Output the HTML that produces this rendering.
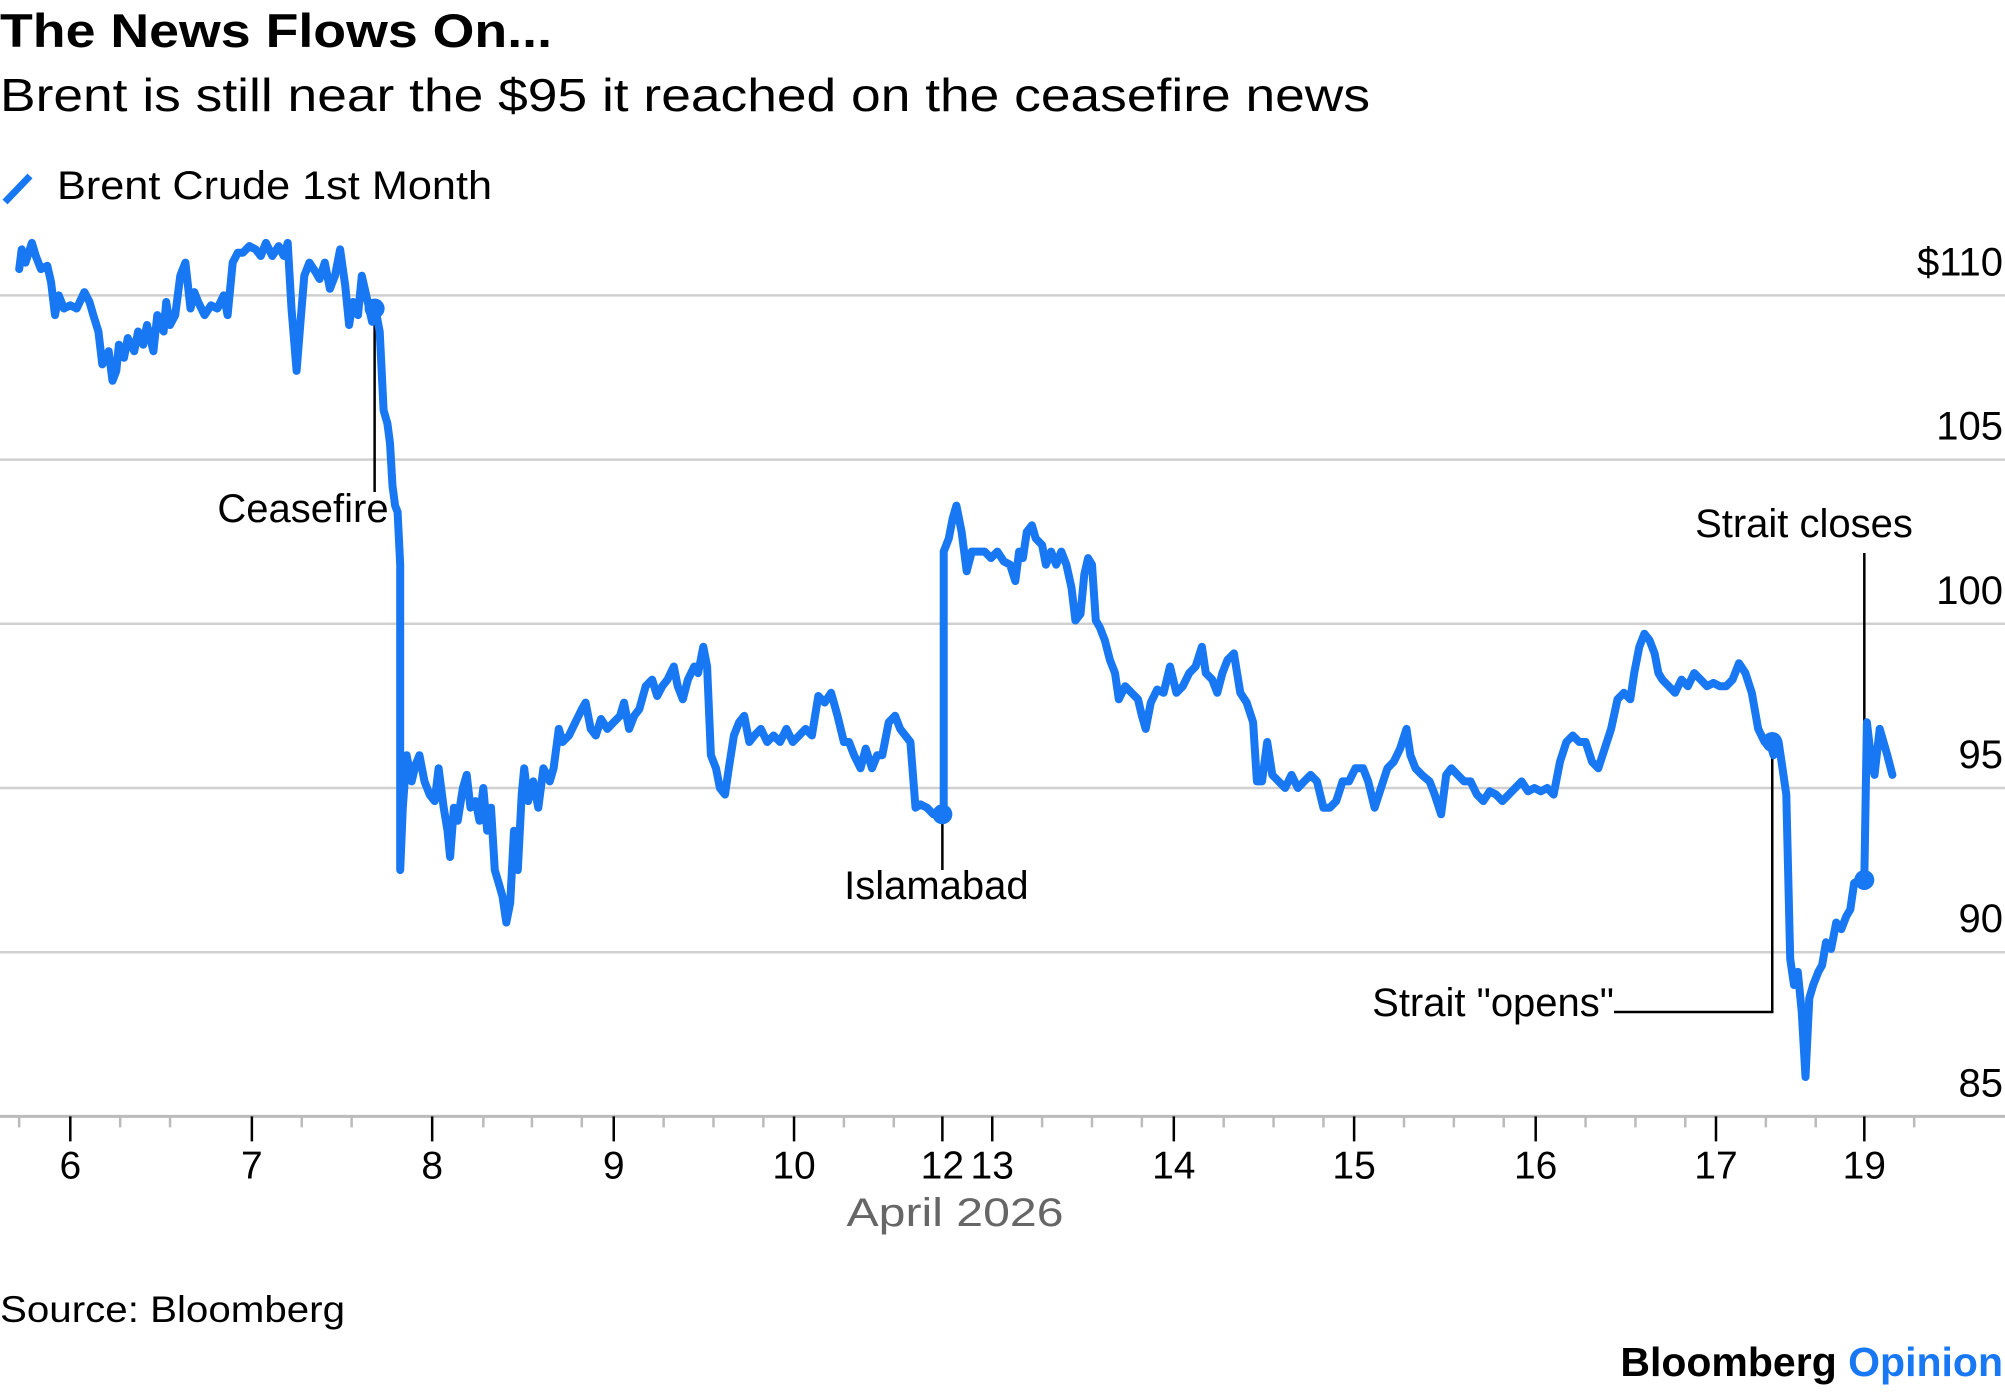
<!DOCTYPE html>
<html><head><meta charset="utf-8"><style>
html,body{margin:0;padding:0;background:#fff;}
body{width:2005px;height:1392px;overflow:hidden;font-family:"Liberation Sans",Arial,sans-serif;}
svg{display:block}
</style></head><body>
<svg id="chart" width="2005" height="1392" viewBox="0 0 2005 1392" xmlns="http://www.w3.org/2000/svg" font-family="Liberation Sans, Arial, sans-serif">
<text x="0" y="47" font-size="47" font-weight="bold" fill="#000" textLength="552" lengthAdjust="spacingAndGlyphs">The News Flows On...</text>
<text x="0" y="111" font-size="46" fill="#000" textLength="1370" lengthAdjust="spacingAndGlyphs">Brent is still near the $95 it reached on the ceasefire news</text>
<g>
<line x1="5" y1="202" x2="30" y2="176" stroke="#1877f2" stroke-width="7"/>
<text x="57" y="199" font-size="40" fill="#000" textLength="435" lengthAdjust="spacingAndGlyphs">Brent Crude 1st Month</text>
</g>
<g id="grid"></g><g id="xaxis"></g><g id="annot"></g><g id="series"></g><g id="dots"></g>
<text x="955" y="1226" font-size="40" fill="#666" text-anchor="middle" textLength="217" lengthAdjust="spacingAndGlyphs">April 2026</text>
<text x="0" y="1322" font-size="37" fill="#000" textLength="345" lengthAdjust="spacingAndGlyphs">Source: Bloomberg</text>
<text x="2003" y="1376" font-size="41" font-weight="bold" text-anchor="end" fill="#000">Bloomberg <tspan fill="#1877f2">Opinion</tspan></text>
</svg>
<script>
// session time units (one trading day ~ 141.5 units; tick "6" = 0)
const sessionTime = [-40,-38,-35,-30,-27,-23,-18,-15,-12,-9,-5,0,5,11,15,18,22,25,30,33,36,38,42,45,50,53,57,60,65,68,73,75,78,82,86,90,94,97,100,105,110,115,120,123,127,131,135,140,145,149,153,158,163,167,170,173,177,180,183,187,192,195,199,203,207,211,215,218,221,225,228,232,236,239,242,245,248,250,252,254,256,258,258,260,263,267,270,273,277,281,285,288,292,295,297,300,303,307,310,313,317,320,323,326,329,332,335,338,341,344,347,350,353,355,358,362,366,370,375,378,382,385,390,395,400,403,407,411,415,420,425,430,433,437,441,445,450,455,459,463,467,472,475,479,483,488,491,495,498,501,505,508,512,515,519,523,527,531,535,540,545,550,555,560,565,570,575,580,585,590,595,600,605,609,613,618,622,627,631,635,640,645,649,653,657,661,665,670,675,680,683,683,687,690,693,697,701,705,710,715,720,725,730,735,739,742,745,748,752,755,760,763,767,771,775,779,783,786,790,793,796,799,802,805,809,813,817,820,825,830,835,838,841,845,850,855,860,865,870,875,880,885,888,893,897,901,905,910,915,920,925,928,932,936,940,945,950,955,960,965,970,975,980,985,990,995,1000,1005,1011,1015,1020,1025,1030,1035,1040,1045,1048,1052,1057,1063,1067,1072,1076,1080,1085,1090,1095,1100,1105,1110,1115,1120,1125,1130,1135,1140,1145,1150,1155,1160,1165,1170,1175,1180,1185,1190,1195,1200,1205,1210,1215,1220,1223,1227,1231,1235,1239,1242,1245,1250,1255,1260,1265,1270,1275,1280,1285,1290,1295,1300,1305,1310,1315,1320,1325,1329,1332,1336,1339,1342,1345,1348,1351,1354,1357,1360,1363,1367,1370,1373,1377,1381,1385,1389,1392,1395,1399,1403,1405,1408,1411,1415,1418,1421,1425];
const brentPrice = [110.8,111.4,111.0,111.6,111.2,110.8,110.9,110.4,109.4,110.0,109.6,109.7,109.6,110.1,109.8,109.4,108.9,107.9,108.3,107.4,107.7,108.5,108.1,108.7,108.3,108.9,108.5,109.1,108.3,109.4,108.9,109.8,109.1,109.4,110.6,111.0,109.6,110.1,109.8,109.4,109.7,109.6,110.0,109.4,111.0,111.3,111.3,111.5,111.4,111.2,111.6,111.2,111.5,111.2,111.6,109.6,107.7,109.2,110.6,111.0,110.7,110.5,111.0,110.2,110.6,111.4,110.3,109.1,109.8,109.4,110.6,109.9,109.2,109.5,108.9,106.5,106.1,105.5,104.2,103.6,103.4,101.8,92.5,94.4,96.0,95.2,95.7,96.0,95.2,94.8,94.6,95.6,94.4,93.7,92.9,94.4,94.0,95.0,95.4,94.4,94.6,94.0,95.0,93.7,94.4,92.5,92.1,91.7,90.9,91.5,93.7,92.5,94.8,95.6,94.6,95.2,94.4,95.6,95.2,95.6,96.8,96.4,96.6,97.0,97.4,97.6,96.8,96.6,97.1,96.8,97.0,97.2,97.6,96.8,97.2,97.4,98.1,98.3,97.8,98.1,98.3,98.7,98.1,97.7,98.3,98.7,98.5,99.3,98.7,96.0,95.6,95.0,94.8,95.6,96.6,97.0,97.2,96.4,96.6,96.8,96.4,96.6,96.4,96.8,96.4,96.6,96.8,96.6,97.8,97.6,97.9,97.2,96.4,96.4,96.0,95.6,96.2,95.6,96.0,96.0,97.0,97.2,96.8,96.6,96.4,94.4,94.5,94.4,94.2,94.2,94.2,102.2,102.6,103.2,103.6,102.8,101.6,102.2,102.2,102.2,102.0,102.2,101.9,101.8,101.3,102.2,102.0,102.8,103.0,102.6,102.4,101.8,102.2,101.8,102.2,101.8,101.1,100.1,100.3,101.5,102.0,101.8,100.1,99.9,99.5,98.9,98.5,97.7,98.1,97.9,97.7,97.2,96.8,97.6,98.0,97.9,98.7,97.9,98.1,98.5,98.7,99.3,98.5,98.3,97.9,98.5,98.9,99.1,97.9,97.6,97.0,95.2,95.2,96.4,95.4,95.2,95.0,95.4,95.0,95.2,95.4,95.2,94.4,94.4,94.6,95.2,95.2,95.6,95.6,95.2,94.4,95.0,95.6,95.8,96.2,96.8,96.0,95.6,95.4,95.2,94.8,94.2,95.4,95.6,95.4,95.2,95.2,94.8,94.6,94.9,94.8,94.6,94.8,95.0,95.2,94.9,95.0,94.9,95.0,94.8,95.8,96.4,96.6,96.4,96.4,95.8,95.6,96.2,96.8,97.7,97.9,97.7,98.5,99.3,99.7,99.5,99.1,98.5,98.3,98.1,97.9,98.3,98.1,98.5,98.3,98.1,98.2,98.1,98.1,98.3,98.8,98.5,97.9,96.8,96.4,96.4,96.0,96.4,95.6,94.8,89.8,89.0,89.4,88.2,86.2,88.6,89.0,89.4,89.6,90.3,90.1,90.9,90.7,91.1,91.3,92.1,92.2,92.2,97.0,96.0,95.4,96.8,96.4,96.0,95.4];
const dayTickTimes = [0,142,283,425,566,682,721,863,1004,1146,1287,1403];
const dayTickLabels = ["6","7","8","9","10","12","13","14","15","16","17","19"];
const minorTickTimes = [-40,39,78,181,220,323,361,400,464,503,542,605,644,760,799,838,902,941,980,1043,1082,1121,1185,1224,1263,1326,1365,1442];
const yTicks = [110,105,100,95,90,85];
const yTickLabels = ["$110","105","100","95","90","85"];
const eventNames = ["Ceasefire","Islamabad","Strait \"opens\"","Strait closes"];
const eventTimes = [238,682,1331,1403];
const eventPrices = [109.6,94.2,96.4,92.2];

const X = t => 70.3 + t*1.2787;
const Y = p => 295.4 + (110-p)*32.84;
const NS = "http://www.w3.org/2000/svg";
function mk(tag, attrs, parent, text){
  const e = document.createElementNS(NS, tag);
  for (const k in attrs) e.setAttribute(k, attrs[k]);
  if (text !== undefined) e.textContent = text;
  parent.appendChild(e); return e;
}
const grid = document.getElementById('grid');
yTicks.forEach((v,i)=>{
  const l = mk('line',{x1:0,x2:2005,y1:Y(v),y2:Y(v),stroke:i===yTicks.length-1?'#bbb':'#d0d0d0','stroke-width':i===yTicks.length-1?3:2.5},grid);
  
  
  const t = mk('text',{x:2003,y:Y(v)-20,'font-size':40,'text-anchor':'end',fill:'#000'},grid,yTickLabels[i]);
  
  
});
const xa = document.getElementById('xaxis');
const base = Y(85);
minorTickTimes.forEach(tt=>{
  const l = mk('line',{x1:X(tt),x2:X(tt),y1:base,y2:base+11,stroke:'#bbb','stroke-width':2.5},xa);
  
  
});
dayTickTimes.forEach((tt,i)=>{
  const l = mk('line',{x1:X(tt),x2:X(tt),y1:base,y2:base+25,stroke:'#000','stroke-width':2.5},xa);
  
  
  const t = mk('text',{x:X(tt),y:base+62,'font-size':39,'text-anchor':'middle',fill:'#000'},xa,dayTickLabels[i]);
  
  
});
// series
let d = '';
sessionTime.forEach((tt,i)=>{ d += (i?'L':'M') + X(tt).toFixed(1) + ' ' + Y(brentPrice[i]).toFixed(1); });
const path = mk('path',{d:d,fill:'none',stroke:'#1877f2','stroke-width':8,'stroke-linejoin':'round','stroke-linecap':'round'},document.getElementById('series'));


// annotations
const an = document.getElementById('annot');
const dots = document.getElementById('dots');
function leader(pts){
  const p = mk('polyline',{points:pts.map(q=>q.join(',')).join(' '),fill:'none',stroke:'#000','stroke-width':2.5},an);
  
  
}
function label(txt,x,y,anchor){
  const t = mk('text',{x:x,y:y,'font-size':40,'text-anchor':anchor,fill:'#000'},an,txt);
  
  
}
eventTimes.forEach((tt,i)=>{
  const ex = X(tt), ey = Y(eventPrices[i]);
  if (i===0){ leader([[ex,ey],[ex,492]]); label(eventNames[i],ex+14,522,'end'); }
  if (i===1){ leader([[ex,ey],[ex,870]]); label(eventNames[i],ex-6,899,'middle'); }
  if (i===2){ leader([[ex,ey],[ex,1012],[1614,1012]]); label(eventNames[i],1614,1016,'end'); }
  if (i===3){ leader([[ex,ey],[ex,553]]); label(eventNames[i],1804,537,'middle'); }
  const c = mk('circle',{cx:ex,cy:ey,r:10,fill:'#1877f2'},dots);
  
  
});
</script>
</body></html>
